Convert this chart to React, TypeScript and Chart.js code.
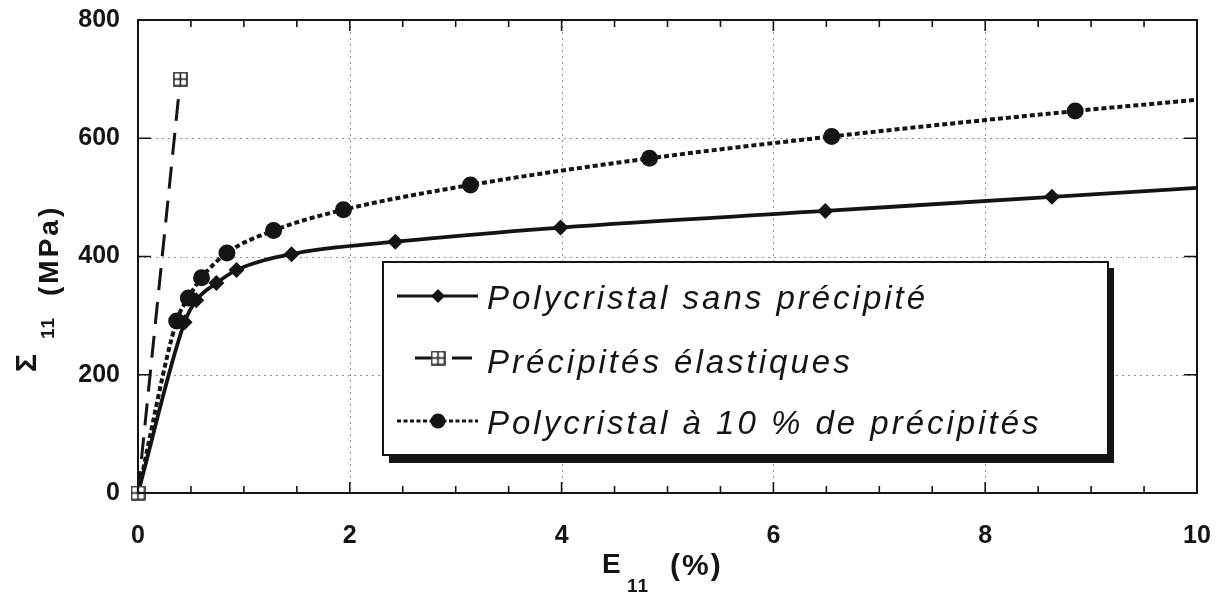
import React, { useEffect, useRef } from 'react';
import { Chart, registerables } from 'chart.js';

Chart.register(...registerables);

// ---- data ----
const strainSans = [0, 0.44, 0.55, 0.74, 0.93, 1.45, 2.43, 3.99, 6.49, 8.63, 10];
const stressSans = [0, 289, 326, 355, 377, 404, 425, 449, 477, 501, 516];

const strainElastic = [0, 0.4];
const stressElastic = [0, 700];

const strain10 = [0, 0.365, 0.475, 0.6, 0.84, 1.28, 1.94, 3.14, 4.83, 6.55, 8.85, 10];
const stress10 = [0, 291, 330, 364, 406, 444, 479, 521, 566, 603, 646, 665];

const seriesLabels = [
  'Polycristal sans précipité',
  'Précipités élastiques',
  'Polycristal à 10 % de précipités',
];

const xMin = 0;
const xMax = 10;
const xStep = 2;
const xMinorStep = 0.5;
const yMin = 0;
const yMax = 800;
const yStep = 200;

const FONT = '"Liberation Sans", Arial, Helvetica, sans-serif';
const INK = '#141414';

function makeBoxCross(size: number): HTMLCanvasElement {
  const c = document.createElement('canvas');
  c.width = size;
  c.height = size;
  const g = c.getContext('2d')!;
  g.fillStyle = '#fff';
  g.fillRect(0, 0, size, size);
  g.strokeStyle = INK;
  g.lineWidth = 1.5;
  g.strokeRect(1, 1, size - 2, size - 2);
  g.beginPath();
  g.moveTo(size / 2, 1);
  g.lineTo(size / 2, size - 1);
  g.moveTo(1, size / 2);
  g.lineTo(size - 1, size / 2);
  g.stroke();
  return c;
}

const pts = (xs: number[], ys: number[]) => xs.map((x, i) => ({ x, y: ys[i] }));
const edgeRadius = (n: number, r: number) => Array.from({ length: n }, (_, i) => (i === 0 || i === n - 1 ? 0 : r));

const framePlugin = {
  id: 'frameGrid',
  beforeDatasetsDraw(chart: any) {
    const { ctx, chartArea: a, scales } = chart;
    const xs = scales.x;
    const ys = scales.y;
    ctx.save();
    ctx.strokeStyle = '#8f8f8f';
    ctx.lineWidth = 1;
    ctx.setLineDash([2, 4]);
    for (let v = xMin + xStep; v < xMax; v += xStep) {
      const px = Math.round(xs.getPixelForValue(v)) + 0.5;
      ctx.beginPath();
      ctx.moveTo(px, a.top);
      ctx.lineTo(px, a.bottom);
      ctx.stroke();
    }
    for (let v = yMin + yStep; v < yMax; v += yStep) {
      const py = Math.round(ys.getPixelForValue(v)) + 0.5;
      ctx.beginPath();
      ctx.moveTo(a.left, py);
      ctx.lineTo(a.right, py);
      ctx.stroke();
    }
    ctx.restore();
  },
  afterDatasetsDraw(chart: any) {
    const { ctx, chartArea: a, scales } = chart;
    const xs = scales.x;
    const ys = scales.y;
    ctx.save();
    ctx.strokeStyle = INK;
    ctx.setLineDash([]);
    ctx.lineWidth = 2;
    ctx.strokeRect(a.left, a.top, a.right - a.left, a.bottom - a.top);
    ctx.lineWidth = 1.6;
    for (let v = xMin + xMinorStep; v < xMax - 1e-9; v += xMinorStep) {
      const px = xs.getPixelForValue(v);
      const major = Math.abs(v / xStep - Math.round(v / xStep)) < 1e-6;
      const len = major ? 11 : 7;
      ctx.beginPath();
      ctx.moveTo(px, a.bottom);
      ctx.lineTo(px, a.bottom - len);
      ctx.moveTo(px, a.top);
      ctx.lineTo(px, a.top + len);
      ctx.stroke();
    }
    for (let v = yMin + yStep; v < yMax; v += yStep) {
      const py = ys.getPixelForValue(v);
      ctx.beginPath();
      ctx.moveTo(a.left, py);
      ctx.lineTo(a.left + 13, py);
      ctx.moveTo(a.right, py);
      ctx.lineTo(a.right - 13, py);
      ctx.stroke();
    }
    ctx.restore();
  },
  afterDraw(chart: any) {
    const { ctx } = chart;
    const ds = chart.data.datasets;
    ctx.save();
    // ---- legend box with shadow ----
    const bx = 383, by = 262, bw = 725, bh = 193;
    ctx.fillStyle = INK;
    ctx.fillRect(bx + 6, by + 6, bw, bh + 2);
    ctx.fillStyle = '#fff';
    ctx.fillRect(bx, by, bw, bh);
    ctx.strokeStyle = INK;
    ctx.lineWidth = 2;
    ctx.strokeRect(bx, by, bw, bh);

    const rows = [296, 358, 421];
    const textX = 487;
    // row 1 : solid + diamond
    ctx.lineWidth = 3;
    ctx.setLineDash([]);
    ctx.beginPath();
    ctx.moveTo(397, rows[0]);
    ctx.lineTo(478, rows[0]);
    ctx.stroke();
    ctx.fillStyle = INK;
    ctx.beginPath();
    ctx.moveTo(438, rows[0] - 7);
    ctx.lineTo(445, rows[0]);
    ctx.lineTo(438, rows[0] + 7);
    ctx.lineTo(431, rows[0]);
    ctx.closePath();
    ctx.fill();
    // row 2 : dash + boxed cross + dash
    ctx.beginPath();
    ctx.moveTo(415, rows[1]);
    ctx.lineTo(431, rows[1]);
    ctx.moveTo(452, rows[1]);
    ctx.lineTo(472, rows[1]);
    ctx.stroke();
    const img = ds[1].pointStyle as HTMLCanvasElement;
    ctx.drawImage(img, 438 - img.width / 2, rows[1] - img.height / 2);
    // row 3 : dotted + circle
    ctx.lineWidth = 2.8;
    ctx.setLineDash([4, 2.5]);
    ctx.beginPath();
    ctx.moveTo(397, rows[2]);
    ctx.lineTo(478, rows[2]);
    ctx.stroke();
    ctx.setLineDash([]);
    ctx.beginPath();
    ctx.arc(438, rows[2], 7.5, 0, Math.PI * 2);
    ctx.fill();

    ctx.fillStyle = INK;
    ctx.font = `italic 33px ${FONT}`;
    (ctx as any).letterSpacing = '3px';
    ctx.textBaseline = 'alphabetic';
    ctx.textAlign = 'left';
    ctx.fillText(seriesLabels[0], textX, rows[0] + 13);
    ctx.fillText(seriesLabels[1], textX, rows[1] + 15);
    ctx.fillText(seriesLabels[2], textX, rows[2] + 13);

    // ---- x axis title: E11 (%) ----
    (ctx as any).letterSpacing = '0px';
    ctx.font = `bold 28px ${FONT}`;
    ctx.fillText('E', 602, 573);
    ctx.font = `bold 19px ${FONT}`;
    (ctx as any).letterSpacing = '1px';
    ctx.fillText('11', 627, 592);
    ctx.font = `bold 30px ${FONT}`;
    (ctx as any).letterSpacing = '2px';
    ctx.fillText('(%)', 670, 575);

    // ---- y axis title: Σ11 (MPa) ----
    const rot = (x: number, y: number, text: string, font: string, ls: string) => {
      ctx.save();
      ctx.translate(x, y);
      ctx.rotate(-Math.PI / 2);
      ctx.font = font;
      (ctx as any).letterSpacing = ls;
      ctx.fillText(text, 0, 0);
      ctx.restore();
    };
    rot(36, 372, 'Σ', `bold 30px ${FONT}`, '0px');
    rot(54, 339, '11', `bold 19px ${FONT}`, '1px');
    rot(58, 296, '(MPa)', `bold 28px ${FONT}`, '3px');
    ctx.restore();
  },
};

export default function App() {
  const ref = useRef<HTMLCanvasElement>(null);

  useEffect(() => {
    const boxCross = makeBoxCross(15);
    const chart = new Chart(ref.current!, {
      type: 'line',
      data: {
        datasets: [
          {
            label: seriesLabels[0],
            data: pts(strainSans, stressSans),
            borderColor: INK,
            backgroundColor: INK,
            borderWidth: 3.8,
            pointStyle: 'rectRot',
            pointRadius: edgeRadius(strainSans.length, 8),
            pointBorderWidth: 0,
            cubicInterpolationMode: 'monotone',
            clip: 10,
            order: 2,
          },
          {
            label: seriesLabels[1],
            data: pts(strainElastic, stressElastic),
            borderColor: INK,
            backgroundColor: '#fff',
            borderWidth: 3,
            borderDash: [22, 12],
            pointStyle: boxCross as any,
            pointRadius: 7,
            tension: 0,
            clip: false as any,
            order: 0,
          },
          {
            label: seriesLabels[2],
            data: pts(strain10, stress10),
            borderColor: INK,
            backgroundColor: INK,
            borderWidth: 4,
            borderDash: [5, 3],
            borderCapStyle: 'butt',
            pointStyle: 'circle',
            pointRadius: edgeRadius(strain10.length, 8.5),
            pointBorderWidth: 0,
            cubicInterpolationMode: 'monotone',
            clip: 10,
            order: 1,
          },
        ],
      },
      options: {
        animation: false,
        responsive: true,
        maintainAspectRatio: false,
        layout: { padding: { top: 20, right: 25, left: 0, bottom: 0 } },
        plugins: {
          legend: { display: false },
          tooltip: { enabled: false },
        },
        scales: {
          x: {
            type: 'linear',
            min: xMin,
            max: xMax,
            grid: { display: false, drawTicks: false },
            border: { display: false },
            ticks: {
              stepSize: xStep,
              color: INK,
              padding: 28,
              maxRotation: 0,
              font: { family: FONT, size: 25, weight: 'bold' },
            },
            afterFit: (scale: any) => {
              scale.height = 101;
              scale.paddingLeft = 0;
              scale.paddingRight = 0;
              scale.paddingTop = 0;
              scale.paddingBottom = 0;
            },
          },
          y: {
            type: 'linear',
            min: yMin,
            max: yMax,
            grid: { display: false, drawTicks: false },
            border: { display: false },
            ticks: {
              stepSize: yStep,
              color: INK,
              padding: 18,
              font: { family: FONT, size: 25, weight: 'bold' },
            },
            afterFit: (scale: any) => {
              scale.width = 138;
              scale.paddingLeft = 0;
              scale.paddingRight = 0;
              scale.paddingTop = 0;
              scale.paddingBottom = 0;
            },
          },
        },
      },
      plugins: [framePlugin],
    });
    return () => chart.destroy();
  }, []);

  return (
    <div style={{ position: 'fixed', left: 0, top: 0, width: 1222, height: 594, background: '#fff' }}>
      <canvas ref={ref} />
    </div>
  );
}
